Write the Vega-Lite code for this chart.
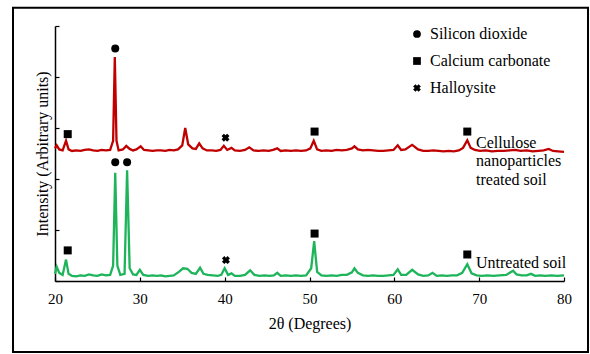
{
  "$schema": "https://vega.github.io/schema/vega-lite/v6.json",
  "width": 509,
  "height": 255,
  "autosize": {"type": "none"},
  "padding": {"left": 55, "top": 26, "right": 26, "bottom": 73},
  "background": "white",
  "config": {
    "view": {"stroke": null},
    "font": "Liberation Serif",
    "axis": {"labelFont": "Liberation Serif", "titleFont": "Liberation Serif", "domainColor": "black", "tickColor": "black", "labelColor": "black", "titleColor": "black", "grid": false, "domainWidth": 1.5, "tickWidth": 1.2, "labelFlush": false},
    "legend": {"labelFont": "Liberation Serif"},
    "text": {"font": "Liberation Serif"}
  },
  "datasets": {
    "xrd": [
      {"s":"treated","t":20.0,"v":2.60},{"s":"treated","t":20.2,"v":2.66},{"s":"treated","t":20.5,"v":2.58},{"s":"treated","t":20.9,"v":2.56},{"s":"treated","t":21.3,"v":2.75},{"s":"treated","t":21.6,"v":2.58},{"s":"treated","t":22.0,"v":2.55},{"s":"treated","t":22.5,"v":2.56},{"s":"treated","t":23.0,"v":2.55},{"s":"treated","t":23.5,"v":2.57},{"s":"treated","t":24.0,"v":2.58},{"s":"treated","t":24.5,"v":2.56},{"s":"treated","t":25.0,"v":2.55},{"s":"treated","t":25.5,"v":2.57},{"s":"treated","t":26.0,"v":2.56},{"s":"treated","t":26.5,"v":2.57},{"s":"treated","t":26.85,"v":2.75},{"s":"treated","t":27.05,"v":4.39},{"s":"treated","t":27.25,"v":2.75},{"s":"treated","t":27.5,"v":2.56},{"s":"treated","t":28.0,"v":2.58},{"s":"treated","t":28.4,"v":2.65},{"s":"treated","t":28.8,"v":2.59},{"s":"treated","t":29.2,"v":2.56},{"s":"treated","t":29.6,"v":2.58},{"s":"treated","t":30.1,"v":2.64},{"s":"treated","t":30.5,"v":2.57},{"s":"treated","t":31.0,"v":2.56},{"s":"treated","t":31.5,"v":2.55},{"s":"treated","t":32.0,"v":2.56},{"s":"treated","t":32.5,"v":2.56},{"s":"treated","t":33.0,"v":2.55},{"s":"treated","t":33.5,"v":2.57},{"s":"treated","t":34.0,"v":2.56},{"s":"treated","t":34.5,"v":2.58},{"s":"treated","t":35.0,"v":2.66},{"s":"treated","t":35.35,"v":3.00},{"s":"treated","t":35.7,"v":2.68},{"s":"treated","t":36.2,"v":2.60},{"s":"treated","t":36.6,"v":2.59},{"s":"treated","t":37.0,"v":2.70},{"s":"treated","t":37.4,"v":2.60},{"s":"treated","t":37.9,"v":2.56},{"s":"treated","t":38.5,"v":2.56},{"s":"treated","t":39.0,"v":2.55},{"s":"treated","t":39.5,"v":2.57},{"s":"treated","t":39.9,"v":2.65},{"s":"treated","t":40.3,"v":2.57},{"s":"treated","t":40.8,"v":2.61},{"s":"treated","t":41.2,"v":2.56},{"s":"treated","t":41.8,"v":2.55},{"s":"treated","t":42.4,"v":2.57},{"s":"treated","t":42.9,"v":2.62},{"s":"treated","t":43.4,"v":2.56},{"s":"treated","t":44.0,"v":2.55},{"s":"treated","t":44.6,"v":2.56},{"s":"treated","t":45.2,"v":2.55},{"s":"treated","t":45.7,"v":2.57},{"s":"treated","t":46.2,"v":2.60},{"s":"treated","t":46.6,"v":2.55},{"s":"treated","t":47.2,"v":2.56},{"s":"treated","t":47.8,"v":2.55},{"s":"treated","t":48.4,"v":2.56},{"s":"treated","t":49.0,"v":2.55},{"s":"treated","t":49.6,"v":2.56},{"s":"treated","t":50.1,"v":2.60},{"s":"treated","t":50.5,"v":2.75},{"s":"treated","t":50.9,"v":2.58},{"s":"treated","t":51.4,"v":2.55},{"s":"treated","t":52.0,"v":2.56},{"s":"treated","t":52.6,"v":2.55},{"s":"treated","t":53.2,"v":2.57},{"s":"treated","t":53.8,"v":2.56},{"s":"treated","t":54.4,"v":2.57},{"s":"treated","t":55.0,"v":2.60},{"s":"treated","t":55.3,"v":2.64},{"s":"treated","t":55.7,"v":2.58},{"s":"treated","t":56.3,"v":2.56},{"s":"treated","t":56.9,"v":2.57},{"s":"treated","t":57.5,"v":2.56},{"s":"treated","t":58.1,"v":2.55},{"s":"treated","t":58.7,"v":2.55},{"s":"treated","t":59.3,"v":2.56},{"s":"treated","t":59.9,"v":2.57},{"s":"treated","t":60.4,"v":2.66},{"s":"treated","t":60.8,"v":2.57},{"s":"treated","t":61.3,"v":2.58},{"s":"treated","t":62.1,"v":2.67},{"s":"treated","t":62.8,"v":2.58},{"s":"treated","t":63.4,"v":2.55},{"s":"treated","t":64.0,"v":2.55},{"s":"treated","t":64.6,"v":2.56},{"s":"treated","t":65.2,"v":2.55},{"s":"treated","t":65.8,"v":2.54},{"s":"treated","t":66.4,"v":2.55},{"s":"treated","t":67.0,"v":2.54},{"s":"treated","t":67.6,"v":2.56},{"s":"treated","t":68.1,"v":2.61},{"s":"treated","t":68.6,"v":2.76},{"s":"treated","t":69.0,"v":2.61},{"s":"treated","t":69.5,"v":2.57},{"s":"treated","t":70.1,"v":2.55},{"s":"treated","t":70.8,"v":2.56},{"s":"treated","t":71.5,"v":2.54},{"s":"treated","t":72.2,"v":2.55},{"s":"treated","t":72.9,"v":2.55},{"s":"treated","t":73.6,"v":2.56},{"s":"treated","t":74.2,"v":2.57},{"s":"treated","t":74.9,"v":2.55},{"s":"treated","t":75.6,"v":2.56},{"s":"treated","t":76.3,"v":2.54},{"s":"treated","t":77.0,"v":2.55},{"s":"treated","t":77.6,"v":2.56},{"s":"treated","t":78.2,"v":2.59},{"s":"treated","t":78.7,"v":2.55},{"s":"treated","t":79.3,"v":2.54},{"s":"treated","t":80.0,"v":2.53},
      {"s":"untreated","t":20.0,"v":0.14},{"s":"untreated","t":20.2,"v":0.28},{"s":"untreated","t":20.5,"v":0.16},{"s":"untreated","t":20.9,"v":0.12},{"s":"untreated","t":21.3,"v":0.42},{"s":"untreated","t":21.6,"v":0.14},{"s":"untreated","t":22.0,"v":0.10},{"s":"untreated","t":22.5,"v":0.09},{"s":"untreated","t":23.0,"v":0.11},{"s":"untreated","t":23.5,"v":0.10},{"s":"untreated","t":24.0,"v":0.13},{"s":"untreated","t":24.5,"v":0.11},{"s":"untreated","t":25.0,"v":0.10},{"s":"untreated","t":25.5,"v":0.13},{"s":"untreated","t":26.0,"v":0.11},{"s":"untreated","t":26.5,"v":0.12},{"s":"untreated","t":26.85,"v":0.30},{"s":"untreated","t":27.1,"v":2.12},{"s":"untreated","t":27.35,"v":0.30},{"s":"untreated","t":27.7,"v":0.12},{"s":"untreated","t":28.2,"v":0.14},{"s":"untreated","t":28.5,"v":2.17},{"s":"untreated","t":28.8,"v":0.25},{"s":"untreated","t":29.2,"v":0.13},{"s":"untreated","t":29.6,"v":0.12},{"s":"untreated","t":30.0,"v":0.22},{"s":"untreated","t":30.4,"v":0.12},{"s":"untreated","t":31.0,"v":0.10},{"s":"untreated","t":31.5,"v":0.11},{"s":"untreated","t":32.0,"v":0.10},{"s":"untreated","t":32.5,"v":0.11},{"s":"untreated","t":33.0,"v":0.09},{"s":"untreated","t":33.5,"v":0.10},{"s":"untreated","t":34.0,"v":0.11},{"s":"untreated","t":34.6,"v":0.18},{"s":"untreated","t":35.1,"v":0.25},{"s":"untreated","t":35.6,"v":0.24},{"s":"untreated","t":36.1,"v":0.16},{"s":"untreated","t":36.6,"v":0.14},{"s":"untreated","t":37.1,"v":0.26},{"s":"untreated","t":37.5,"v":0.14},{"s":"untreated","t":38.0,"v":0.12},{"s":"untreated","t":38.6,"v":0.11},{"s":"untreated","t":39.2,"v":0.10},{"s":"untreated","t":39.6,"v":0.12},{"s":"untreated","t":40.0,"v":0.25},{"s":"untreated","t":40.4,"v":0.12},{"s":"untreated","t":40.8,"v":0.15},{"s":"untreated","t":41.2,"v":0.10},{"s":"untreated","t":41.8,"v":0.10},{"s":"untreated","t":42.4,"v":0.12},{"s":"untreated","t":43.0,"v":0.21},{"s":"untreated","t":43.5,"v":0.12},{"s":"untreated","t":44.1,"v":0.10},{"s":"untreated","t":44.7,"v":0.11},{"s":"untreated","t":45.3,"v":0.10},{"s":"untreated","t":45.8,"v":0.11},{"s":"untreated","t":46.2,"v":0.16},{"s":"untreated","t":46.6,"v":0.10},{"s":"untreated","t":47.2,"v":0.11},{"s":"untreated","t":47.8,"v":0.10},{"s":"untreated","t":48.4,"v":0.11},{"s":"untreated","t":49.0,"v":0.10},{"s":"untreated","t":49.6,"v":0.11},{"s":"untreated","t":50.2,"v":0.25},{"s":"untreated","t":50.55,"v":0.78},{"s":"untreated","t":50.9,"v":0.18},{"s":"untreated","t":51.4,"v":0.11},{"s":"untreated","t":52.0,"v":0.10},{"s":"untreated","t":52.6,"v":0.11},{"s":"untreated","t":53.2,"v":0.10},{"s":"untreated","t":53.8,"v":0.12},{"s":"untreated","t":54.4,"v":0.12},{"s":"untreated","t":55.0,"v":0.17},{"s":"untreated","t":55.3,"v":0.25},{"s":"untreated","t":55.7,"v":0.16},{"s":"untreated","t":56.3,"v":0.11},{"s":"untreated","t":56.9,"v":0.10},{"s":"untreated","t":57.5,"v":0.11},{"s":"untreated","t":58.1,"v":0.10},{"s":"untreated","t":58.7,"v":0.10},{"s":"untreated","t":59.3,"v":0.11},{"s":"untreated","t":59.9,"v":0.12},{"s":"untreated","t":60.4,"v":0.23},{"s":"untreated","t":60.8,"v":0.12},{"s":"untreated","t":61.4,"v":0.12},{"s":"untreated","t":62.1,"v":0.22},{"s":"untreated","t":62.8,"v":0.13},{"s":"untreated","t":63.4,"v":0.10},{"s":"untreated","t":64.0,"v":0.11},{"s":"untreated","t":64.5,"v":0.16},{"s":"untreated","t":65.0,"v":0.10},{"s":"untreated","t":65.6,"v":0.11},{"s":"untreated","t":66.2,"v":0.10},{"s":"untreated","t":66.8,"v":0.11},{"s":"untreated","t":67.4,"v":0.11},{"s":"untreated","t":68.0,"v":0.16},{"s":"untreated","t":68.6,"v":0.33},{"s":"untreated","t":69.1,"v":0.15},{"s":"untreated","t":69.7,"v":0.11},{"s":"untreated","t":70.3,"v":0.10},{"s":"untreated","t":71.0,"v":0.11},{"s":"untreated","t":71.7,"v":0.10},{"s":"untreated","t":72.4,"v":0.11},{"s":"untreated","t":73.2,"v":0.12},{"s":"untreated","t":73.6,"v":0.16},{"s":"untreated","t":74.0,"v":0.20},{"s":"untreated","t":74.4,"v":0.13},{"s":"untreated","t":75.0,"v":0.11},{"s":"untreated","t":75.6,"v":0.11},{"s":"untreated","t":76.1,"v":0.14},{"s":"untreated","t":76.6,"v":0.10},{"s":"untreated","t":77.2,"v":0.11},{"s":"untreated","t":77.8,"v":0.10},{"s":"untreated","t":78.5,"v":0.11},{"s":"untreated","t":79.2,"v":0.10},{"s":"untreated","t":80.0,"v":0.11}
    ],
    "markers": [
      {"phase":"Silicon dioxide","t":27.1,"v":4.56},
      {"phase":"Silicon dioxide","t":27.1,"v":2.33},
      {"phase":"Silicon dioxide","t":28.5,"v":2.33},
      {"phase":"Calcium carbonate","t":21.5,"v":2.88},
      {"phase":"Calcium carbonate","t":50.6,"v":2.93},
      {"phase":"Calcium carbonate","t":68.6,"v":2.93},
      {"phase":"Calcium carbonate","t":21.5,"v":0.60},
      {"phase":"Calcium carbonate","t":50.6,"v":0.93},
      {"phase":"Calcium carbonate","t":68.6,"v":0.52},
      {"phase":"Halloysite","t":40.1,"v":2.81},
      {"phase":"Halloysite","t":40.15,"v":0.41}
    ],
    "labels": [
      {"t":69.63,"v":2.61,"label":"Cellulose\nnanoparticles\ntreated soil"},
      {"t":69.63,"v":0.25,"label":"Untreated soil"}
    ]
  },
  "layer": [
    {
      "data": {"values": [{"x0":15.05,"x1":82.83,"y0":5.36,"y1":-1.39}]},
      "mark": {"type": "rect", "fill": null, "stroke": "black", "strokeWidth": 2, "clip": false},
      "encoding": {
        "x": {"field": "x0", "type": "quantitative", "scale": {"domain": [20, 80], "nice": false}},
        "x2": {"field": "x1"},
        "y": {"field": "y0", "type": "quantitative", "scale": {"domain": [0, 5], "nice": false}},
        "y2": {"field": "y1"}
      }
    },
    {
      "data": {"name": "xrd"},
      "mark": {"type": "line", "strokeWidth": 2.3, "interpolate": "linear"},
      "encoding": {
        "x": {"field": "t", "type": "quantitative", "scale": {"domain": [20, 80], "nice": false},
              "axis": {"values": [20,30,40,50,60,70,80], "title": "2θ (Degrees)", "titleFontSize": 16, "titleFontWeight": "normal", "labelFontSize": 15, "tickSize": -4, "labelPadding": 14, "titlePadding": 9}},
        "y": {"field": "v", "type": "quantitative", "scale": {"domain": [0, 5], "nice": false},
              "axis": {"values": [0,1,2,3,4,5], "labels": false, "title": "Intensity (Arbitrary units)", "titleFontSize": 16, "titleFontWeight": "normal", "tickSize": -4, "titlePadding": 4}},
        "color": {"field": "s", "type": "nominal", "scale": {"domain": ["treated","untreated"], "range": ["#C00000", "#1DB45A"]}, "legend": null},
        "detail": {"field": "s"}
      }
    },
    {
      "data": {"name": "markers"},
      "mark": {"type": "point", "filled": true, "color": "black", "opacity": 1, "size": 64},
      "encoding": {
        "x": {"field": "t", "type": "quantitative", "scale": {"domain": [20, 80], "nice": false}},
        "y": {"field": "v", "type": "quantitative", "scale": {"domain": [0, 5], "nice": false}},
        "shape": {"field": "phase", "type": "nominal",
          "scale": {"domain": ["Silicon dioxide","Calcium carbonate","Halloysite"], "range": ["circle","square","M-1,-0.4L-0.4,-1L0,-0.6L0.4,-1L1,-0.4L0.6,0L1,0.4L0.4,1L0,0.6L-0.4,1L-1,0.4L-0.6,0Z"]},
          "legend": {"title": null, "orient": "none", "legendX": 354, "legendY": 0, "labelFontSize": 16, "labelColor": "black", "symbolFillColor": "black", "symbolStrokeColor": "black", "symbolSize": 60, "rowPadding": 11, "labelOffset": 5}}
      }
    },
    {
      "data": {"name": "labels"},
      "mark": {"type": "text", "align": "left", "baseline": "alphabetic", "fontSize": 16, "lineBreak": "\n", "lineHeight": 18.5, "color": "black"},
      "encoding": {
        "x": {"field": "t", "type": "quantitative", "scale": {"domain": [20, 80], "nice": false}},
        "y": {"field": "v", "type": "quantitative", "scale": {"domain": [0, 5], "nice": false}},
        "text": {"field": "label"}
      }
    }
  ]
}
